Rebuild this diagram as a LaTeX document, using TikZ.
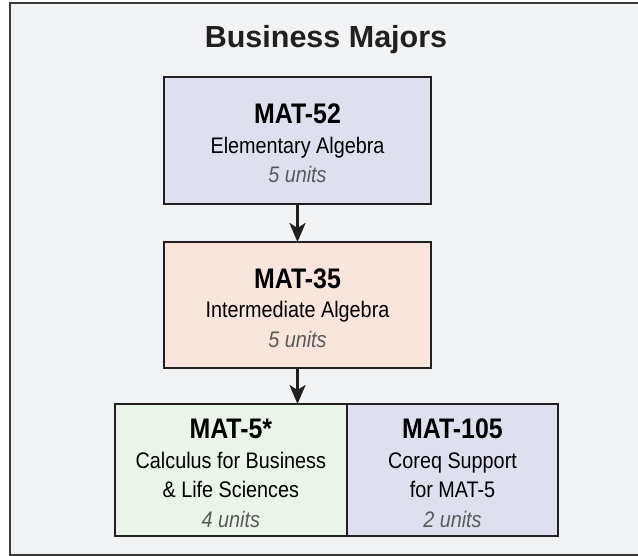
\documentclass[tikz,border=0pt]{standalone}
\usepackage{fontspec}
\setmainfont{Liberation Sans}
\newfontfamily\narrowfont{Liberation Sans}[FakeStretch=0.88]
\usetikzlibrary{arrows.meta,positioning}
\definecolor{pagebg}{HTML}{F2F3F5}
\definecolor{framegray}{HTML}{3A3A3A}
\definecolor{boxline}{HTML}{231F20}
\definecolor{lavender}{HTML}{DFE0EE}
\definecolor{peach}{HTML}{FAE5DC}
\definecolor{mint}{HTML}{EAF4E8}
\definecolor{unitgray}{HTML}{5A5A5A}
\newcommand{\coursetext}[3]{\rule{0pt}{26pt}{\fontsize{28.3}{29.5}\selectfont\bfseries #1}\\#2\\{\itshape\color{unitgray}#3}}
\begin{document}
\begin{tikzpicture}[x=1pt,y=-1pt,
  coursebox/.style={draw=boxline,line width=2pt,outer sep=0pt,inner sep=0pt,align=center,
    font=\narrowfont\fontsize{22.5}{29.5}\selectfont},
  flow/.style={-{Stealth[length=19pt,width=16pt,inset=5pt]},line width=3pt,draw=boxline}]
\clip (0,0) rectangle (638,556);
\draw[draw=framegray,line width=2pt,fill=pagebg] (10,3) rectangle (642,555);
%
\node[anchor=base,font=\bfseries\fontsize{30.5}{36}\selectfont,text=boxline] (heading) at (326,48) {Business Majors};
%
\node[coursebox,fill=lavender,minimum width=267pt,minimum height=127pt] (mat52) at (297.5,140.5)
  {\coursetext{MAT-52}{Elementary Algebra}{5 units}};
\node[coursebox,fill=peach,minimum width=267pt,minimum height=126pt] (mat35) at (297.5,305)
  {\coursetext{MAT-35}{Intermediate Algebra}{5 units}};
\node[coursebox,fill=mint,minimum width=232.3pt,minimum height=132pt] (mat5) at (230.85,470)
  {\coursetext{MAT-5*}{Calculus for Business\\\& Life Sciences}{4 units}};
\node[coursebox,fill=lavender,minimum width=211pt,minimum height=132pt,right=0pt of mat5] (mat105)
  {\coursetext{MAT-105}{Coreq Support\\for MAT-5}{2 units}};
%
\draw[flow] (mat52) -- (mat35);
\draw[flow] (mat35.south) -- (mat35.south |- mat5.north);
\end{tikzpicture}
\end{document}
